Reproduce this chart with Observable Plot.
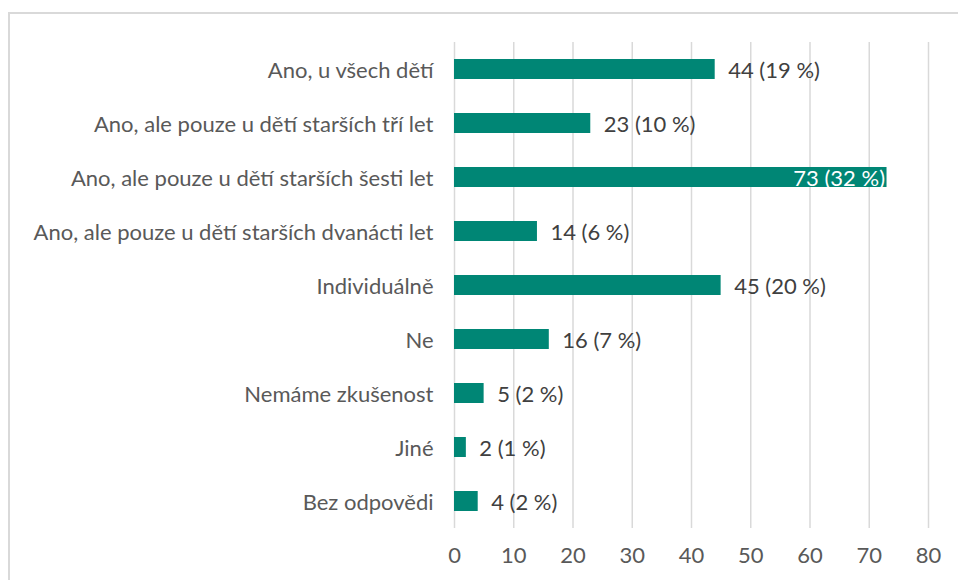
<!DOCTYPE html>
<html><head><meta charset="utf-8">
<script src="https://cdn.jsdelivr.net/npm/d3@7"></script>
<script src="https://cdn.jsdelivr.net/npm/@observablehq/plot@0.6"></script>
<style>
body{margin:0;background:#fff;overflow:hidden;}
#chart{position:absolute;left:0;top:0;}
#frame{position:absolute;left:8px;top:12px;width:980px;height:600px;border:2px solid #d9d9d9;z-index:2;pointer-events:none;}
</style></head><body>
<div id="chart"></div><div id="frame"></div>
<script>
const categories = [
  "Ano, u všech dětí",
  "Ano, ale pouze u dětí starších tří let",
  "Ano, ale pouze u dětí starších šesti let",
  "Ano, ale pouze u dětí starších dvanácti let",
  "Individuálně",
  "Ne",
  "Nemáme zkušenost",
  "Jiné",
  "Bez odpovědi"
];
const counts = [44, 23, 73, 14, 45, 16, 5, 2, 4];
const percents = [19, 10, 32, 6, 20, 7, 2, 1, 2];
const xTicks = [0, 10, 20, 30, 40, 50, 60, 70, 80];

const data = categories.map((c, i) => ({category: c, count: counts[i], pct: percents[i], label: `${counts[i]} (${percents[i]} %)`}));
const maxCount = d3.max(counts);
const fs = 22;

const chart = Plot.plot({
  width: 958,
  height: 580,
  marginLeft: 454,
  marginRight: 30,
  marginTop: 42,
  marginBottom: 52,
  style: {fontFamily: "Lato, 'Open Sans', sans-serif", fontSize: fs + "px", color: "#595959", background: "transparent"},
  x: {domain: [0, 80], ticks: xTicks, label: null},
  y: {domain: categories, label: null, paddingInner: 0.63, paddingOuter: 0.315},
  marks: [
    Plot.gridX(xTicks, {stroke: "#d9d9d9", strokeOpacity: 1, strokeWidth: 1.5}),
    Plot.axisX(xTicks, {tickSize: 0, tickPadding: 19, fontSize: fs, fill: "#595959", label: null}),
    Plot.axisY({tickSize: 0, tickPadding: 21, fontSize: fs, fill: "#595959", label: null, dy: 1}),
    Plot.barX(data, {y: "category", x: "count", fill: "#008675"}),
    Plot.text(data.filter(d => d.count !== maxCount), {y: "category", x: "count", text: "label", textAnchor: "start", dx: 13, dy: 1, fill: "#404040", fontSize: fs}),
    Plot.text(data.filter(d => d.count === maxCount), {y: "category", x: "count", text: "label", textAnchor: "end", dx: -2, dy: 1, fill: "#ffffff", fontSize: fs})
  ]
});
document.getElementById("chart").appendChild(chart);
</script>
</body></html>
